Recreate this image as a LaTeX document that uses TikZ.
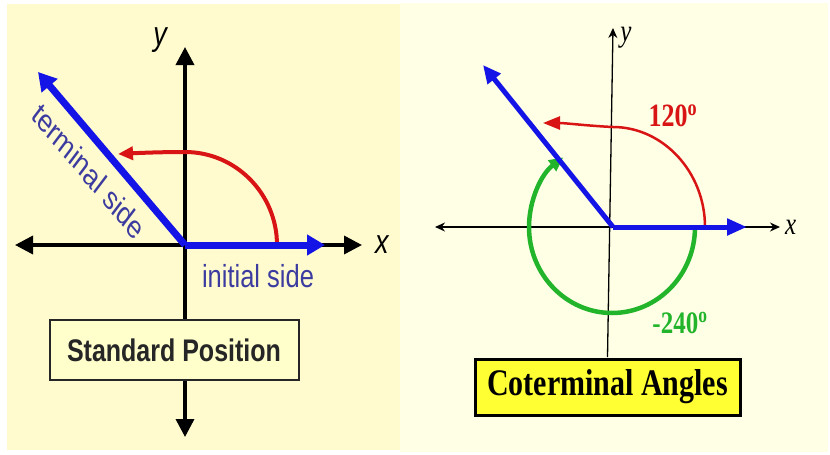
\documentclass[tikz,border=0pt]{standalone}
\usepackage{fontspec}
\setmainfont{Liberation Serif}
\setsansfont{Liberation Sans}
\usetikzlibrary{arrows.meta, positioning}

\definecolor{paleleft}{HTML}{FFFBCF}
\definecolor{paleright}{HTML}{FFFFE6}
\definecolor{boxpale}{HTML}{FFFFCC}
\definecolor{boxyellow}{HTML}{FFFF33}
\definecolor{rayblue}{HTML}{1414E6}
\definecolor{textblue}{HTML}{3C3CA0}
\definecolor{arcred}{HTML}{D81414}
\definecolor{arcgreen}{HTML}{22B42A}

\begin{document}
\begin{tikzpicture}[x=1pt, y=-1pt,
    axis/.style={line width=3.5pt, {Triangle[length=18pt, width=18pt]}-{Triangle[length=18pt, width=18pt]}},
    thinaxis/.style={line width=1.3pt, {Stealth[length=10pt, width=9pt]}-{Stealth[length=10pt, width=9pt]}},
    lbl/.style={inner sep=0pt, yscale=1.25},
    sans/.style={font=\sffamily\fontsize{#1}{#1}\selectfont},
    serif/.style={font=\rmfamily\bfseries\fontsize{#1}{#1}\selectfont}]
    % panels
    \useasboundingbox (0,0) rectangle (830,455);
    \fill[paleleft] (7,4) rectangle (400,450);
    \fill[paleright] (400,3) rectangle (828,452);

    % standard position
    \coordinate (O1) at (185,245);
    \coordinate (xl1) at (15,245);
    \coordinate (xr1) at (362,245);
    \coordinate (yt1) at (185,47);
    \coordinate (yb1) at (185,437);
    \coordinate (T1) at (38,72);
    \coordinate (I1) at (325,245);
    \coordinate (A1) at (277,245);
    \coordinate (B1) at (118,154);
    \draw[axis] (xl1) -- (xr1);
    \draw[axis] (yb1) -- (yt1);
    \draw[arcred, line width=4pt, -{Triangle[length=15pt, width=13pt]}]
        (A1) .. controls (277,194) and (236,152) .. (185,152)
        .. controls (160,152) and (138,153) .. (B1);
    \draw[rayblue, line width=7pt, -{Triangle[length=18pt, width=20pt]}] (O1) -- (I1);
    \draw[rayblue, line width=7pt, -{Triangle[length=18pt, width=20pt]}] (O1) -- (T1);
    \node[lbl, font=\sffamily\itshape\fontsize{27}{27}\selectfont, right=13pt of xr1] (xlab1) {x};
    \node[lbl, font=\sffamily\itshape\fontsize{27}{27}\selectfont] (ylab1) at (160,40) {y};
    \node[lbl, rotate=-43.3, text=textblue, sans=25.5] (term) at (89,171) {terminal side};
    \node[lbl, text=textblue, sans=25.5] (init) at (258,276) {initial side};
    \node[lbl, draw=black!85, line width=2pt, fill=boxpale, minimum width=249pt,
        minimum height=48pt, font=\sffamily\bfseries\fontsize{25}{25}\selectfont, text=black!85]
        (std) at (174,350) {Standard Position};

    % coterminal angles
    \coordinate (O2) at (613,227);
    \coordinate (xl2) at (435,227);
    \coordinate (xr2) at (780,227);
    \coordinate (yt2) at (613,28);
    \coordinate (T2) at (483,65);
    \coordinate (I2) at (747,227);
    \coordinate (A2) at (705,227);
    \coordinate (B2) at (543,123);
    \coordinate (C2) at (695,227);
    \node[lbl, draw=black, line width=3pt, fill=boxyellow, minimum width=265pt,
        minimum height=44.8pt, serif=30] (cot) at (607.5,387) {Coterminal Angles};
    \draw[thinaxis] (xl2) -- (xr2);
    \draw[line width=1.3pt, -{Stealth[length=10pt, width=9pt]}] (cot.north) -- (yt2);
    \draw[arcred, line width=2.5pt, -{Triangle[length=17pt, width=13pt]}]
        (A2) .. controls (705,172) and (663,127) .. (613,127)
        .. controls (590,126) and (565,123) .. (B2);
    \draw[arcgreen, line width=4.5pt, -{Triangle[length=14pt, width=13pt]}]
        (C2) arc[start angle=0, end angle=234, x radius=83, y radius=86];
    \draw[rayblue, line width=5pt, -{Triangle[length=20pt, width=16pt]}] (O2) -- (I2);
    \draw[rayblue, line width=5pt, -{Triangle[length=18pt, width=16pt]}] (O2) -- (T2);
    \node[lbl, font=\rmfamily\itshape\fontsize{25}{25}\selectfont, right=5pt of xr2] (xlab2) {x};
    \node[lbl, font=\rmfamily\itshape\fontsize{25}{25}\selectfont] (ylab2) at (626,38) {y};
    \node[lbl, text=arcred, serif=26] (a120) at (673,116) {120\textsuperscript{o}};
    \node[lbl, text=arcgreen, serif=25] (a240) at (680,323) {-240\textsuperscript{o}};
\end{tikzpicture}
\end{document}
